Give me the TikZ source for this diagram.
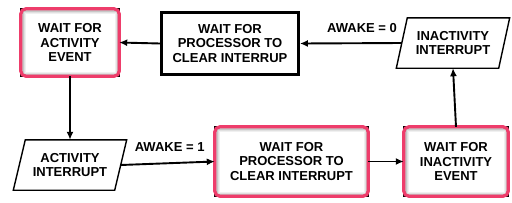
\documentclass[tikz,border=0pt]{standalone}
\usepackage{fontspec}
\setmainfont{Liberation Sans}
\usetikzlibrary{arrows.meta,calc}
\definecolor{pinkc}{HTML}{EE3D6B}
\begin{document}
\begin{tikzpicture}[x=1pt,y=-1pt,
  txt/.style={font=\bfseries\fontsize{13}{14.5}\selectfont, align=center, inner sep=0pt},
  pinkbox/.style={txt, fill=white, minimum width=#1,
    path picture={
      \foreach \w/\c in {9/black!6, 7/black!12, 5/black!22}{
        \draw[line width=\w pt, \c] (path picture bounding box.south west) rectangle (path picture bounding box.north east);}
    }},
  plainbox/.style={txt, draw=black, line width=2.8pt, minimum width=#1},
  para/.style={txt, minimum width=#1, minimum height=50pt},
  conn/.style={line width=1.9pt, -{Latex[length=8pt,width=7pt]}},
  lbl/.style={font=\bfseries\fontsize{13}{14.5}\selectfont, inner sep=0pt}
]
\useasboundingbox (0,0) rectangle (512,202);

% nodes
\node[pinkbox=98pt, minimum height=67pt] (b1) at (70,42.5) {WAIT FOR\\ACTIVITY\\EVENT};
\node[plainbox=137pt, minimum height=62pt] (b2) at (230,43.5) {WAIT FOR\\PROCESSOR TO\\CLEAR INTERRUP};
\node[pinkbox=153pt, minimum height=69pt] (b3) at (291.5,161.5) {WAIT FOR\\PROCESSOR TO\\CLEAR INTERRUPT};
\node[pinkbox=104pt, minimum height=69pt] (b4) at (456,161.5) {WAIT FOR\\INACTIVITY\\EVENT};
\node[para=102pt] (p1) at (453,43) {INACTIVITY\\INTERRUPT};
\node[para=101pt] (p2) at (70,165) {ACTIVITY\\INTERRUPT};

% parallelogram outlines
\draw[line width=1.4pt, line join=miter]
  ($(p1.south west)+(-5.5,0)$) -- ($(p1.north west)+(5.5,0)$) -- ($(p1.north east)+(5.5,0)$) -- ($(p1.south east)+(-5.5,0)$) -- cycle;
\draw[line width=1.4pt, line join=miter]
  ($(p2.south west)+(-6,0)$) -- ($(p2.north west)+(6,0)$) -- ($(p2.north east)+(6,0)$) -- ($(p2.south east)+(-6,0)$) -- cycle;

% pink highlighted borders
\foreach \n in {b1,b3,b4}{
  \draw[line width=1.8pt, black] (\n.south west) rectangle (\n.north east);
  \draw[pinkc, line width=3.2pt, rounded corners=5pt] (\n.south west) rectangle (\n.north east);
}

% connectors
\draw[conn] (b2.west) -- (b1.east);
\draw[conn] (p1.west) -- node[lbl, pos=0.39, above=10pt] {AWAKE = 0} (b2.east);
\draw[conn] (b4.north) -- (p1.south);
\draw[conn] (b1.south) -- (p2.north);
\draw[conn] (p2.east) -- node[lbl, pos=0.52, above=11pt] {AWAKE = 1} (b3.west);
\draw[conn] (b3.east) -- (b4.west);
\end{tikzpicture}
\end{document}
